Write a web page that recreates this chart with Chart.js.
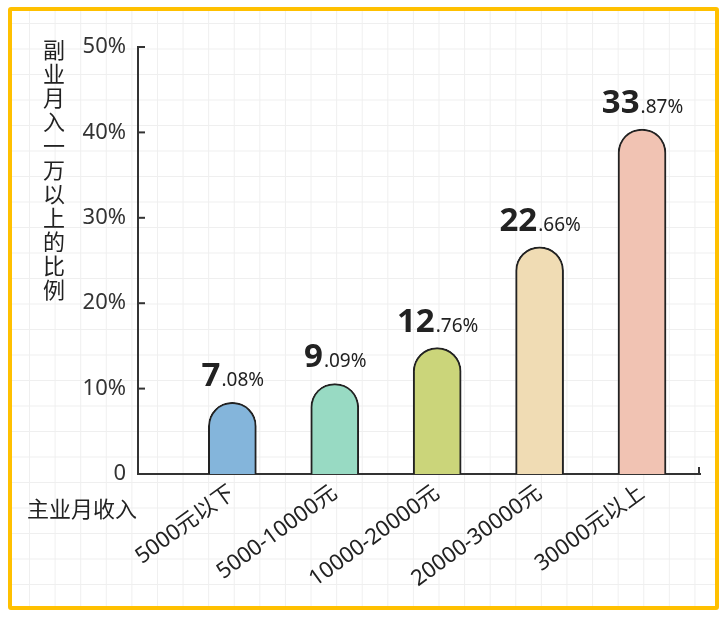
<!DOCTYPE html>
<html>
<head>
<meta charset="utf-8">
<script src="https://cdn.jsdelivr.net/npm/chart.js@4/dist/chart.umd.min.js"></script>
<style>
body{margin:0;background:#fff;}
#wrap{position:relative;width:727px;height:619px;}
#frame{
position:absolute;left:8px;top:7px;width:703px;height:595px;
border:4px solid #FFC000;border-radius:3px;
background-color:#fff;
background-image:
linear-gradient(to right,#efefef 1px,transparent 1px),
linear-gradient(to bottom,#efefef 1px,transparent 1px);
background-size:25.6px 25.5px;
background-position:17px 12px;
}
#chart{position:absolute;left:0;top:0;}
</style>
</head>
<body>
<div id="wrap">
<div id="frame"></div>
<canvas id="chart" width="727" height="619"></canvas>
</div>
<script>
// DATA
const categories = ["5000元以下", "5000-10000元", "10000-20000元", "20000-30000元", "30000元以上"];
const shareLabels = ["7.08", "9.09", "12.76", "22.66", "33.87"];
// bar tops as they sit on the drawn axis
const barHeights = [8.4, 10.6, 14.8, 26.6, 40.4];
const barColors = ["#84b5db", "#98dac3", "#cbd57a", "#f0dcb4", "#f1c3b3"];
const yTicks = [0, 10, 20, 30, 40, 50];
const yTitle = "副业月入一万以上的比例";
const xTitle = "主业月收入";

Chart.defaults.font.family = "'Noto Sans', 'Noto Sans CJK SC', sans-serif";

// extra drawing: inner ticks, value labels, axis titles
const decor = {
id: "decor",
afterDraw(chart){
const ctx = chart.ctx;
const area = chart.chartArea;
const y = chart.scales.y;

ctx.save();
ctx.strokeStyle = "#333";
ctx.lineWidth = 2;
yTicks.forEach(v=>{
if(v===0) return;
const py = y.getPixelForValue(v);
ctx.beginPath();
ctx.moveTo(area.left, py);
ctx.lineTo(area.left+7, py);
ctx.stroke();
});
ctx.beginPath();
ctx.moveTo(area.right-1, area.bottom);
ctx.lineTo(area.right-1, area.bottom-7);
ctx.stroke();

// value labels
const meta = chart.getDatasetMeta(0);
ctx.fillStyle = "#222";
ctx.textBaseline = "alphabetic";
ctx.textAlign = "left";
meta.data.forEach((bar,i)=>{
const parts = shareLabels[i].split(".");
const big = parts[0];
const small = "." + parts[1] + "%";
ctx.font = "bold 33px 'Noto Sans', sans-serif";
const wb = ctx.measureText(big).width;
ctx.font = "19px 'Noto Sans', sans-serif";
const ws = ctx.measureText(small).width;
const x0 = bar.x - (wb+ws)/2;
const by = bar.y - 16;
ctx.font = "bold 33px 'Noto Sans', sans-serif";
ctx.fillText(big, x0, by);
ctx.font = "19px 'Noto Sans', sans-serif";
ctx.fillText(small, x0+wb+1, by);
});

// vertical y title
ctx.fillStyle = "#222";
ctx.font = "22px 'Noto Sans CJK SC', sans-serif";
ctx.textAlign = "center";
ctx.textBaseline = "middle";
Array.from(yTitle).forEach((ch,i)=>{
ctx.fillText(ch, 54, 50 + i*24);
});

// x title
ctx.font = "22px 'Noto Sans CJK SC', sans-serif";
ctx.textAlign = "left";
ctx.fillText(xTitle, 27, 509);
ctx.restore();
}
};

const ctx = document.getElementById("chart");

new Chart(ctx, {
type: "bar",
data: {
datasets: [{
data: barHeights.map((h,i)=>({x:i+1, y:h})),
backgroundColor: barColors,
borderColor: "#222",
borderWidth: 2,
borderSkipped: "bottom",
borderRadius: {topLeft:24, topRight:24, bottomLeft:0, bottomRight:0},
barThickness: 48
}]
},
options: {
responsive: false,
animation: false,
layout: { padding: { top: 47, right: 27, left: 0, bottom: 0 } },
plugins: { legend: { display: false }, tooltip: { enabled: false } },
scales: {
x: {
type: "linear",
offset: false,
min: 0.079,
max: 5.566,
grid: { display: false, drawTicks: false, offset: false },
border: { color: "#333", width: 2 },
afterBuildTicks: s => { s.ticks = categories.map((c,i)=>({value:i+1})); },
afterFit: s => { s.height = 145; },
ticks: {
autoSkip: false,
minRotation: 36,
maxRotation: 36,
padding: 6,
color: "#222",
font: { size: 22 },
callback: v => categories[v-1]
}
},
y: {
min: 0,
max: 50,
grid: { display: false, drawTicks: false },
border: { color: "#333", width: 2 },
afterFit: s => { s.width = 138; },
ticks: {
stepSize: 10,
padding: 12,
color: "#333",
font: { size: 22 },
callback: v => v===0 ? "0" : v + "%"
}
}
}
},
plugins: [decor]
});
</script>
</body>
</html>
